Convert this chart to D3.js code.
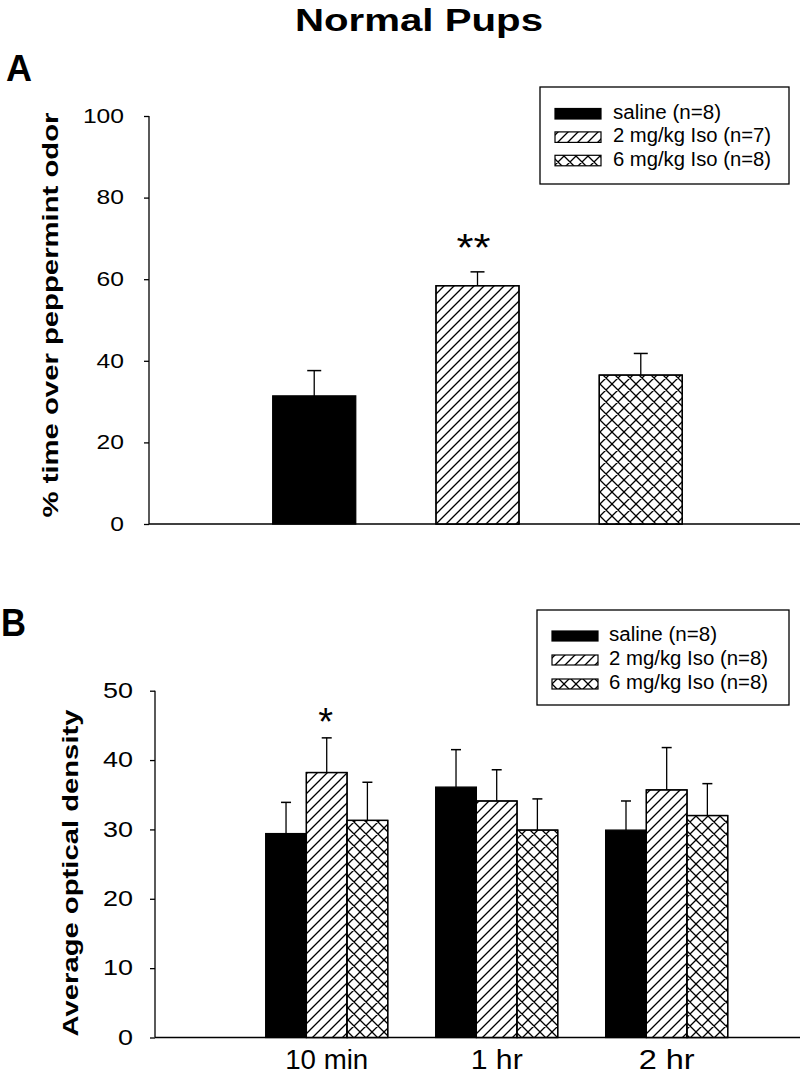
<!DOCTYPE html>
<html><head><meta charset="utf-8">
<script src="https://cdn.jsdelivr.net/npm/d3@7"></script>
<style>body{margin:0;background:#fff}svg{display:block}text{font-family:Arial,"Liberation Sans",sans-serif;fill:#000}</style>
</head><body>
<script>
// ---- data ----
const groups = ["saline", "2 mg/kg Iso", "6 mg/kg Iso"];
const legendA = ["saline (n=8)", "2 mg/kg Iso (n=7)", "6 mg/kg Iso (n=8)"];
const legendB = ["saline (n=8)", "2 mg/kg Iso (n=8)", "6 mg/kg Iso (n=8)"];
const meansA = [31.4, 58.4, 36.5];
const errA = [6.2, 3.4, 5.3];
const sigA = ["", "**", ""];
const ticksA = [0, 20, 40, 60, 80, 100];

const times = ["10 min", "1 hr", "2 hr"];
const salineB = [29.4, 36.1, 29.9];
const iso2B = [38.2, 34.1, 35.7];
const iso6B = [31.3, 29.9, 32.0];
const salineErrB = [4.5, 5.4, 4.2];
const iso2ErrB = [5.0, 4.5, 6.1];
const iso6ErrB = [5.5, 4.5, 4.6];
const sigB = ["*", "", ""];
const ticksB = [0, 10, 20, 30, 40, 50];

const W = 800, H = 1075;
const svg = d3.select("body").append("svg").attr("width", W).attr("height", H);

// patterns
const defs = svg.append("defs");
const diag = defs.append("pattern").attr("id", "diag").attr("patternUnits", "userSpaceOnUse")
  .attr("width", 10).attr("height", 10);
diag.append("path").attr("d", "M-1,1 l2,-2 M0,10 l10,-10 M9,11 l2,-2").attr("stroke", "#000").attr("stroke-width", 1.3);
const cross = defs.append("pattern").attr("id", "cross").attr("patternUnits", "userSpaceOnUse")
  .attr("width", 12).attr("height", 12);
cross.append("path").attr("d", "M-1,1 l2,-2 M0,12 l12,-12 M11,13 l2,-2 M-1,11 l2,2 M0,0 l12,12 M11,-1 l2,2")
  .attr("stroke", "#000").attr("stroke-width", 1.3);
const fills = ["#000", "url(#diag)", "url(#cross)"];

function txt(g, s, x, y, size, len, opts = {}) {
  const t = g.append("text").attr("x", x).attr("y", y).attr("font-size", size).text(s);
  if (opts.bold) t.attr("font-weight", "bold");
  if (opts.anchor) t.attr("text-anchor", opts.anchor);
  if (len) t.attr("textLength", len).attr("lengthAdjust", "spacingAndGlyphs");
  if (opts.transform) t.attr("transform", opts.transform);
  return t;
}

// Title and panel letters
txt(svg, "Normal Pups", 419, 31, 32, 248, {bold: true, anchor: "middle"});
txt(svg, "A", 6, 81, 36, 26, {bold: true});
txt(svg, "B", 1, 636, 38, 25, {bold: true});

// ---------------- Panel A ----------------
const yA = d3.scaleLinear().domain([0, 100]).range([524, 116]);
const xA = d3.scaleBand().domain(groups).range([231.9, 723.1]).paddingInner(0.4916).paddingOuter(0.25);
const gA = svg.append("g");

const axA = gA.append("g").attr("transform", "translate(149,0)")
  .call(d3.axisLeft(yA).tickValues(ticksA).tickSize(5).tickPadding(20).tickFormat(d3.format("d")));
axA.select(".domain").attr("d", `M0,${yA(100)}V${yA(0)}`).attr("stroke-width", 1.3);
axA.selectAll(".tick line").attr("stroke-width", 1.3);
axA.selectAll(".tick text").attr("font-size", 21).attr("font-family", "Arial, Liberation Sans, sans-serif")
  .attr("dy", "0.3em").each(function(d) { d3.select(this).attr("textLength", String(d).length * 13.7).attr("lengthAdjust", "spacingAndGlyphs"); });
gA.append("line").attr("x1", 149).attr("x2", 800).attr("y1", yA(0)).attr("y2", yA(0)).attr("stroke", "#000").attr("stroke-width", 1.5);

groups.forEach((gname, i) => {
  const x = xA(gname), bw = xA.bandwidth(), cx = x + bw / 2;
  gA.append("line").attr("x1", cx).attr("x2", cx).attr("y1", yA(meansA[i])).attr("y2", yA(meansA[i] + errA[i])).attr("stroke", "#000").attr("stroke-width", 1.3);
  gA.append("line").attr("x1", cx - 7).attr("x2", cx + 7).attr("y1", yA(meansA[i] + errA[i])).attr("y2", yA(meansA[i] + errA[i])).attr("stroke", "#000").attr("stroke-width", 1.5);
  gA.append("rect").attr("x", x).attr("y", yA(meansA[i])).attr("width", bw).attr("height", yA(0) - yA(meansA[i]))
    .attr("fill", i === 0 ? "#000" : "#fff").attr("stroke", "#000").attr("stroke-width", 1.3);
  if (i > 0) gA.append("rect").attr("x", x).attr("y", yA(meansA[i])).attr("width", bw).attr("height", yA(0) - yA(meansA[i]))
    .attr("fill", fills[i]).attr("stroke", "#000").attr("stroke-width", 1.3);
  if (sigA[i]) txt(gA, sigA[i], cx - 4, 261, 38, 34, {anchor: "middle"});
});

txt(gA, "% time over peppermint odor", 0, 0, 22, 405, {bold: true, anchor: "middle", transform: "translate(58,315) rotate(-90)"});

// Legend A
const legA = svg.append("g");
legA.append("rect").attr("x", 540).attr("y", 87).attr("width", 249).attr("height", 97).attr("fill", "#fff").attr("stroke", "#000").attr("stroke-width", 1.3);
legendA.forEach((s, i) => {
  const yy = 108.5 + i * 23.4;
  legA.append("rect").attr("x", 555).attr("y", yy).attr("width", 46).attr("height", 10.5)
    .attr("fill", fills[i]).attr("stroke", "#000").attr("stroke-width", 1.2);
  txt(legA, s, 613, yy + 10.5, 20, [108, 158, 158][i]);
});

// ---------------- Panel B ----------------
const yB = d3.scaleLinear().domain([0, 50]).range([1037.5, 690.7]);
const xB = d3.scaleBand().domain(times).range([180.7, 812.7]).paddingInner(0.282).paddingOuter(0.5);
const xInner = d3.scaleBand().domain(groups).range([0, xB.bandwidth()]).padding(0);
const gB = svg.append("g");

const axB = gB.append("g").attr("transform", "translate(155,0)")
  .call(d3.axisLeft(yB).tickValues(ticksB).tickSize(5).tickPadding(17).tickFormat(d3.format("d")));
axB.select(".domain").attr("d", `M0,${yB(50)}V${yB(0)}`).attr("stroke-width", 1.3);
axB.selectAll(".tick line").attr("stroke-width", 1.3);
axB.selectAll(".tick text").attr("font-size", 22).attr("font-family", "Arial, Liberation Sans, sans-serif")
  .attr("dy", "0.3em").each(function(d) { d3.select(this).attr("textLength", String(d).length * 15).attr("lengthAdjust", "spacingAndGlyphs"); });
gB.append("line").attr("x1", 155).attr("x2", 800).attr("y1", yB(0)).attr("y2", yB(0)).attr("stroke", "#000").attr("stroke-width", 1.5);

const seriesB = [salineB, iso2B, iso6B];
const errsB = [salineErrB, iso2ErrB, iso6ErrB];
times.forEach((t, ti) => {
  groups.forEach((gname, si) => {
    const x = xB(t) + xInner(gname), bw = xInner.bandwidth(), cx = x + bw / 2;
    const v = seriesB[si][ti], e = errsB[si][ti];
    gB.append("line").attr("x1", cx).attr("x2", cx).attr("y1", yB(v)).attr("y2", yB(v + e)).attr("stroke", "#000").attr("stroke-width", 1.3);
    gB.append("line").attr("x1", cx - 5).attr("x2", cx + 5).attr("y1", yB(v + e)).attr("y2", yB(v + e)).attr("stroke", "#000").attr("stroke-width", 1.5);
    gB.append("rect").attr("x", x).attr("y", yB(v)).attr("width", bw).attr("height", yB(0) - yB(v))
      .attr("fill", si === 0 ? "#000" : "#fff").attr("stroke", "#000").attr("stroke-width", 1.3);
    if (si > 0) gB.append("rect").attr("x", x).attr("y", yB(v)).attr("width", bw).attr("height", yB(0) - yB(v))
      .attr("fill", fills[si]).attr("stroke", "#000").attr("stroke-width", 1.3);
    if (si === 1 && sigB[ti]) txt(gB, sigB[ti], cx - 1, 735, 38, null, {anchor: "middle"});
  });
  txt(gB, t, xB(t) + xB.bandwidth() / 2, 1069, 27, [83, 52, 56][ti], {anchor: "middle"});
});

txt(gB, "Average optical density", 0, 0, 22, 327, {bold: true, anchor: "middle", transform: "translate(78,873) rotate(-90)"});

const legB = svg.append("g");
legB.append("rect").attr("x", 537).attr("y", 610).attr("width", 252).attr("height", 95).attr("fill", "#fff").attr("stroke", "#000").attr("stroke-width", 1.3);
legendB.forEach((s, i) => {
  const yy = 631 + i * 24;
  legB.append("rect").attr("x", 552).attr("y", yy).attr("width", 46).attr("height", 10)
    .attr("fill", fills[i]).attr("stroke", "#000").attr("stroke-width", 1.2);
  txt(legB, s, 609, yy + 10, 20, [108, 159, 159][i]);
});
</script>
</body></html>
